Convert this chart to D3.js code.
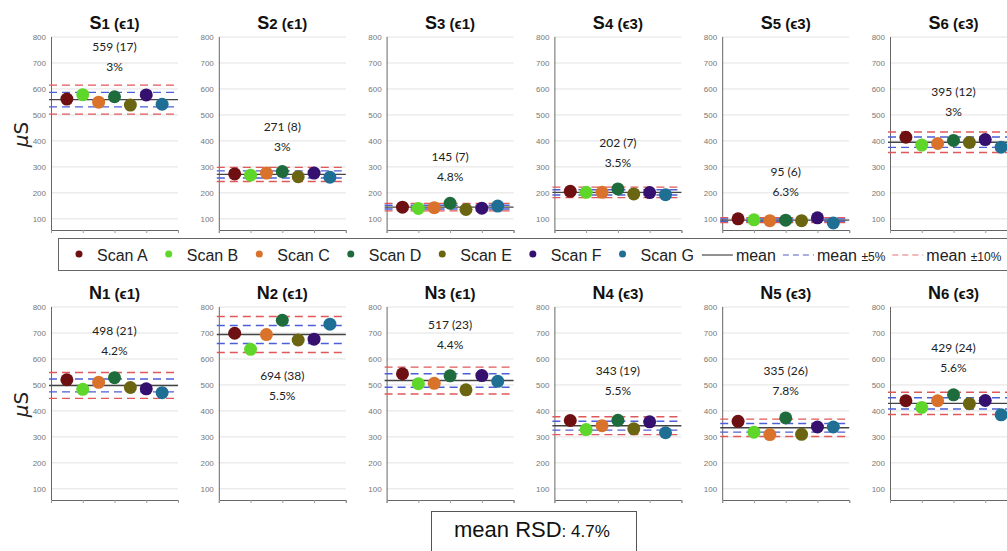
<!DOCTYPE html>
<html>
<head>
<meta charset="utf-8">
<script src="https://cdn.jsdelivr.net/npm/d3@7/dist/d3.min.js"></script>
<style>
  body { margin: 0; background: #fff; }
  svg { display: block; }
</style>
</head>
<body>
<svg class="scanChart"></svg>
<script>
// data
const scanNames = ["Scan A", "Scan B", "Scan C", "Scan D", "Scan E", "Scan F", "Scan G"];
const scanColors = ["#6e0f12", "#5fd62a", "#d9732c", "#1e6b3c", "#6b6512", "#35106e", "#1f6f94"];

const panelNames = ["S1", "S2", "S3", "S4", "S5", "S6", "N1", "N2", "N3", "N4", "N5", "N6"];
const panelEps = ["ϵ1", "ϵ1", "ϵ1", "ϵ3", "ϵ3", "ϵ3", "ϵ1", "ϵ1", "ϵ1", "ϵ3", "ϵ3", "ϵ3"];

const scanValues = [
    [561, 578, 549, 570, 538, 577, 541],
    [273, 268, 276, 282, 262, 276, 260],
    [145, 140, 143, 160, 136, 141, 149],
    [206, 202, 202, 215, 196, 201, 193],
    [100, 96, 93, 95, 93, 104, 84],
    [414, 384, 390, 402, 394, 405, 376],
    [520, 483, 510, 528, 490, 485, 470],
    [699, 637, 694, 749, 673, 676, 734],
    [543, 505, 506, 535, 481, 536, 514],
    [363, 328, 343, 364, 331, 358, 316],
    [360, 318, 309, 373, 310, 338, 338],
    [439, 413, 439, 462, 428, 440, 385]
];

const panelMeans = [559, 271, 145, 202, 95, 395, 498, 694, 517, 343, 335, 429];
const panelSD = [17, 8, 7, 7, 6, 12, 21, 38, 23, 19, 26, 24];
const panelRSD = ["3%", "3%", "4.8%", "3.5%", "6.3%", "3%", "4.2%", "5.5%", "4.4%", "5.5%", "7.8%", "5.6%"];
// where the mean (sd) note sits, in µS
const noteAt = [762, 454, 338, 392, 281, 588, 708, 535, 731, 554, 554, 642];

const yTicks = [100, 200, 300, 400, 500, 600, 700, 800];
const meanRSD = "4.7%";

document.addEventListener('DOMContentLoaded', function(){
    drawChart();
});

function drawChart(){
    const W = 1007, H = 551;
    const svg = d3.select(".scanChart").attr("width", W).attr("height", H);

    const panelW = 127, colStep = 167.8;
    const rows = [{top: 37, bottom: 230}, {top: 307, bottom: 500}];

    const x = d3.scaleLinear().domain([0, 8]).range([0, panelW]);

    panelNames.forEach((name, i) => {
        const row = rows[Math.floor(i / 6)];
        const col = i % 6;
        const y = d3.scaleLinear().domain([57, 800]).range([row.bottom, row.top]);
        const g = svg.append("g").attr("transform", `translate(${51 + col * colStep},0)`);

        // grid
        g.selectAll(".grid").data(yTicks).enter().append("line")
            .attr("x1", 0).attr("x2", panelW)
            .attr("y1", d => y(d)).attr("y2", d => y(d))
            .style("stroke", "#e2e2e2").style("stroke-width", 1);

        // y axis
        const yAxis = g.append("g")
            .call(d3.axisLeft(y).tickValues(yTicks).tickSize(0).tickPadding(5));
        yAxis.select(".domain").attr("d", `M0.5,${y(800)}V${row.bottom}`).style("stroke", "#666");
        yAxis.selectAll(".tick text")
            .style("font-size", "8px")
            .style("font-family", "Liberation Sans")
            .style("fill", "#777");

        // x axis
        const xAxis = g.append("g")
            .attr("transform", `translate(0,${row.bottom})`)
            .call(d3.axisBottom(x).tickValues([0, 2, 4, 6, 8]).tickSize(3).tickFormat(""));
        xAxis.select(".domain").style("stroke", "#666");
        xAxis.selectAll(".tick line").style("stroke", "#999");

        // mean and bands
        const m = panelMeans[i];
        const bands = [
            {v: m * 1.1, c: "#e0585a"}, {v: m * 0.9, c: "#e0585a"},
            {v: m * 1.05, c: "#4d5fd6"}, {v: m * 0.95, c: "#4d5fd6"}
        ];
        g.selectAll(".band").data(bands).enter().append("line")
            .attr("x1", -2).attr("x2", panelW)
            .attr("y1", d => y(d.v)).attr("y2", d => y(d.v))
            .style("stroke", d => d.c).style("stroke-width", 1.4)
            .style("stroke-dasharray", "8,5");
        g.append("line")
            .attr("x1", -2).attr("x2", panelW)
            .attr("y1", y(m)).attr("y2", y(m))
            .style("stroke", "#444").style("stroke-width", 1.4);

        // points
        g.selectAll(".dot").data(scanValues[i]).enter().append("circle")
            .attr("cx", (d, k) => x(k + 1))
            .attr("cy", d => y(d))
            .attr("r", 6.5)
            .style("fill", (d, k) => scanColors[k]);

        // notes
        const noteY = y(noteAt[i]);
        g.append("text")
            .attr("x", x(4)).attr("y", noteY).attr("dy", "0.35em")
            .attr("text-anchor", "middle")
            .style("font-size", "12px").style("font-family", "Lato").style("fill", "#222")
            .text(`${m} (${panelSD[i]})`);
        g.append("text")
            .attr("x", x(4)).attr("y", noteY + 20).attr("dy", "0.35em")
            .attr("text-anchor", "middle")
            .style("font-size", "12px").style("font-family", "Lato").style("fill", "#222")
            .text(panelRSD[i]);

        // title
        const t = g.append("text")
            .attr("x", x(4)).attr("y", row.top - 8)
            .attr("text-anchor", "middle")
            .style("font-family", "Liberation Sans").style("font-weight", "bold").style("fill", "#111");
        t.append("tspan").style("font-size", "18px").text(name[0]);
        t.append("tspan").style("font-size", "15px").text(name.slice(1));
        t.append("tspan").style("font-size", "15px").text(" (" + panelEps[i] + ")");
    });

    // unit labels
    rows.forEach(row => {
        const u = svg.append("text")
            .attr("transform", `translate(28,${(row.top + row.bottom) / 2 + 1}) rotate(-90)`)
            .attr("text-anchor", "middle")
            .style("font-size", "20px")
            .style("font-family", "DejaVu Sans")
            .style("fill", "#222");
        u.append("tspan").style("font-style", "italic").text("μ");
        u.append("tspan").text("S");
    });

    // legend
    const lg = svg.append("g");
    lg.append("rect")
        .attr("x", 58.5).attr("y", 238.5).attr("width", 1000).attr("height", 32)
        .style("fill", "none").style("stroke", "#666");
    const ly = 255;
    let lx = 79;
    scanNames.forEach((s, k) => {
        lg.append("circle").attr("cx", lx).attr("cy", ly - 1).attr("r", 3.5).style("fill", scanColors[k]);
        const txt = lg.append("text")
            .attr("x", lx + 18).attr("y", ly).attr("dy", "0.35em")
            .style("font-size", "16px").style("font-family", "Liberation Sans").style("fill", "#222")
            .text(s);
        lx = lx + 18 + txt.node().getComputedTextLength() + 21;
    });
    const lineItems = [
        {label: "mean", extra: "", c: "#555", dash: null},
        {label: "mean ", extra: "±5%", c: "#8f92d6", dash: "6,4"},
        {label: "mean ", extra: "±10%", c: "#eea0a0", dash: "6,4"}
    ];
    lx -= 13;
    lineItems.forEach(it => {
        lg.append("line")
            .attr("x1", lx).attr("x2", lx + 31).attr("y1", ly).attr("y2", ly)
            .style("stroke", it.c).style("stroke-width", 1.3)
            .style("stroke-dasharray", it.dash);
        const txt = lg.append("text")
            .attr("x", lx + 34).attr("y", ly).attr("dy", "0.35em")
            .style("font-size", "16px").style("font-family", "Liberation Sans").style("fill", "#222");
        txt.append("tspan").text(it.label);
        txt.append("tspan").style("font-size", "12px").text(it.extra);
        lx = lx + 34 + txt.node().getComputedTextLength() + 7;
    });

    // mean RSD box
    svg.append("rect")
        .attr("x", 431.5).attr("y", 511.5).attr("width", 205).attr("height", 60)
        .style("fill", "none").style("stroke", "#555");
    const r = svg.append("text")
        .attr("x", 454).attr("y", 537)
        .style("font-family", "Liberation Sans").style("fill", "#111");
    r.append("tspan").style("font-size", "22px").text("mean RSD");
    r.append("tspan").style("font-size", "17px").text(": " + meanRSD);
}
</script>
</body>
</html>
